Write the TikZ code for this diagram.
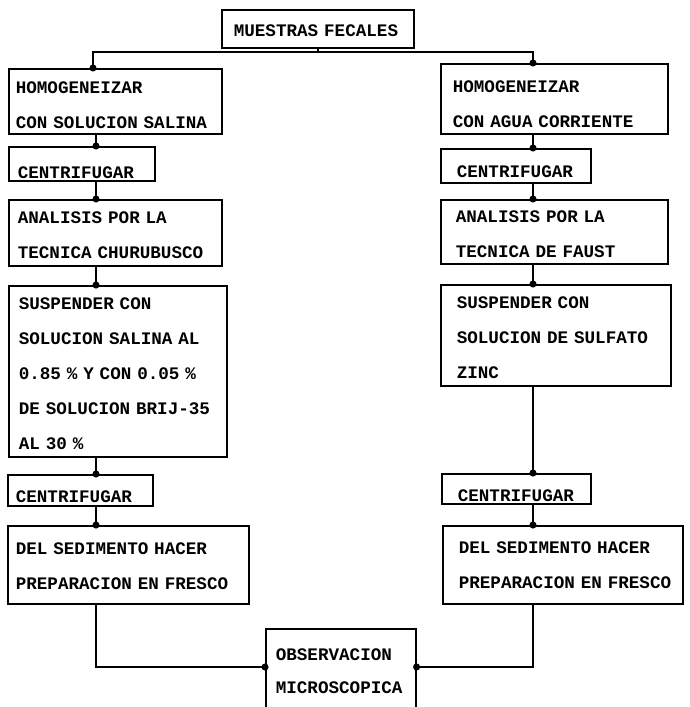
\documentclass[tikz,border=0pt]{standalone}
\usepackage{fontspec}
\setmainfont{Liberation Mono}
\usetikzlibrary{arrows.meta}
\newcommand\tS[1]{\rule{0pt}{#1pt}}
\newcommand\bS[1]{\rule[-#1pt]{0pt}{#1pt}}
\newcommand\oneline[1]{\mbox{#1}}
\begin{document}
\begin{tikzpicture}[x=1pt,y=-1pt,
  box/.style={draw, line width=1.6pt, anchor=north west, align=left, inner ysep=0pt,
    font=\fontsize{17.6}{35}\selectfont\bfseries},
  conn/.style={line width=1.4pt},
  dotted tip/.style={conn, -{Circle[length=7pt]}, shorten >=-3.5pt}]
\useasboundingbox (0,0) rectangle (690,707);
\fill[white] (0,0) rectangle (690,707);
% column coordinates
\coordinate (cL) at (96,0);
\coordinate (cR) at (533,0);
\coordinate (hy) at (0,52);
\coordinate (by) at (0,667);
% top
\node[box, inner xsep=12pt, text width=168pt] (M) at (221,9) {\tS{27}\oneline{MUESTRAS FECALES}\bS{11}};
% left column
\node[box, inner xsep=7pt, text width=199pt] (L1) at (8,68) {\tS{25}\oneline{HOMOGENEIZAR}\\\oneline{CON SOLUCION SALINA}\bS{5}};
\node[box, inner xsep=9pt, text width=128pt] (L2) at (8,146) {\tS{32}\oneline{CENTRIFUGAR}\bS{2}};
\node[box, inner xsep=9pt, text width=195pt] (L3) at (8,199) {\tS{24}\oneline{ANALISIS POR LA}\\\oneline{TECNICA CHURUBUSCO}\bS{7}};
\node[box, inner xsep=10pt, text width=198pt] (L4) at (8,285) {\tS{24}\oneline{SUSPENDER CON}\\\oneline{SOLUCION SALINA AL}\\\oneline{0.85 \% Y CON 0.05 \%}\\\oneline{DE SOLUCION BRIJ-35}\\\oneline{AL 30 \%}\bS{7}};
\node[box, inner xsep=8pt, text width=129pt] (L5) at (7,474) {\tS{28}\oneline{CENTRIFUGAR}\bS{3}};
\node[box, inner xsep=8pt, text width=225pt] (L6) at (7,525) {\tS{29}\oneline{DEL SEDIMENTO HACER}\\\oneline{PREPARACION EN FRESCO}\bS{14}};
% right column
\node[box, inner xsep=12pt, text width=203pt] (R1) at (440,63) {\tS{29}\oneline{HOMOGENEIZAR}\\\oneline{CON AGUA CORRIENTE}\bS{6}};
\node[box, inner xsep=16pt, text width=118pt] (R2) at (440,148) {\tS{29}\oneline{CENTRIFUGAR}\bS{5}};
\node[box, inner xsep=15pt, text width=197pt] (R3) at (440,199) {\tS{23}\oneline{ANALISIS POR LA}\\\oneline{TECNICA DE FAUST}\bS{6}};
\node[box, inner xsep=16pt, text width=198pt] (R4) at (440,284) {\tS{24}\oneline{SUSPENDER CON}\\\oneline{SOLUCION DE SULFATO}\\\oneline{ZINC}\bS{7}};
\node[box, inner xsep=16pt, text width=117pt] (R5) at (441,473) {\tS{28}\oneline{CENTRIFUGAR}\bS{2}};
\node[box, inner xsep=16pt, text width=208pt] (R6) at (442,525) {\tS{28}\oneline{DEL SEDIMENTO HACER}\\\oneline{PREPARACION EN FRESCO}\bS{15}};
% bottom
\node[box, inner xsep=10pt, text width=130pt] (O) at (265,628) {\tS{32}\oneline{OBSERVACION}\\[-2pt]\oneline{MICROSCOPICA}\bS{30}};
% connectors
\coordinate (j) at (M.south |- hy);
\draw[conn] (M.south) -- (j);
\draw[dotted tip] (j) -| ([xshift=-3pt]L1.north -| cL);
\draw[dotted tip] (j) -| (R1.north -| cR);
\draw[dotted tip] (L1.south -| cL) -- (L2.north -| cL);
\draw[dotted tip] (L2.south -| cL) -- (L3.north -| cL);
\draw[dotted tip] (L3.south -| cL) -- (L4.north -| cL);
\draw[dotted tip] (L4.south -| cL) -- (L5.north -| cL);
\draw[dotted tip] (L5.south -| cL) -- (L6.north -| cL);
\draw[dotted tip] (R1.south -| cR) -- (R2.north -| cR);
\draw[dotted tip] (R2.south -| cR) -- (R3.north -| cR);
\draw[dotted tip] (R3.south -| cR) -- (R4.north -| cR);
\draw[dotted tip] (R4.south -| cR) -- (R5.north -| cR);
\draw[dotted tip] (R5.south -| cR) -- (R6.north -| cR);
\draw[dotted tip] (L6.south -| cL) |- (O.west |- by);
\draw[dotted tip] (R6.south -| cR) |- (O.east |- by);
\end{tikzpicture}
\end{document}
